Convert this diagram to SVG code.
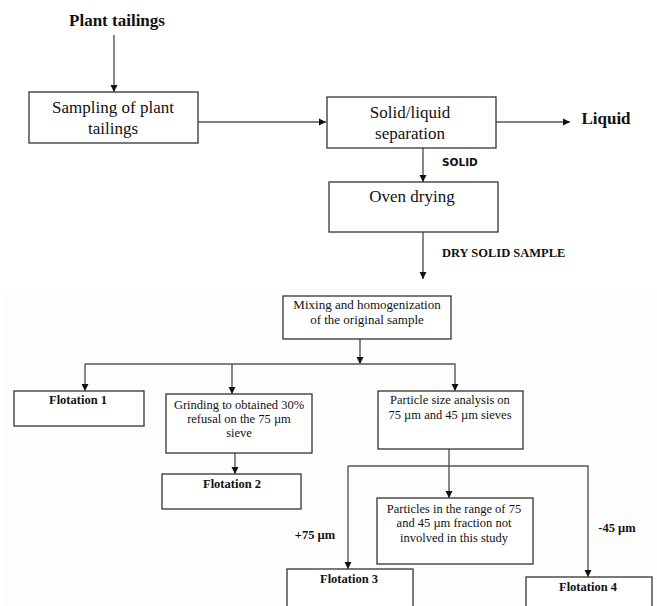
<svg xmlns="http://www.w3.org/2000/svg" width="657" height="606" viewBox="0 0 657 606">
<style>
  .box { fill: #fff; stroke: #333; stroke-width: 1.3; }
  .t { font-family: "Liberation Serif", "Times New Roman", serif; fill: #111; text-anchor: middle; }
  .big { font-size: 17px; }
  .sm { font-size: 12.5px; }
  .b { font-weight: bold; }
  .sans { font-family: "DejaVu Sans", Verdana, sans-serif; font-weight: bold; font-size: 10.5px; fill: #111; }
  .ln { fill: none; stroke: #555; stroke-width: 1.4; }
</style>
<defs>
  <marker id="ah" markerWidth="8" markerHeight="8" refX="7" refY="4" orient="auto" markerUnits="userSpaceOnUse">
    <path d="M0,0.5 L7,4 L0,7.5 Z" fill="#111"/>
  </marker>
</defs>
<rect x="0" y="0" width="657" height="606" fill="#fff"/>
<rect x="5" y="290" width="652" height="316" fill="#fdfdfd"/>

<g id="connectors">
  <line class="ln" x1="114" y1="35" x2="114" y2="92" marker-end="url(#ah)"/>
  <line class="ln" x1="198" y1="122" x2="326" y2="122" marker-end="url(#ah)"/>
  <line class="ln" x1="496" y1="122" x2="570" y2="122" marker-end="url(#ah)"/>
  <line class="ln" x1="423" y1="148" x2="423" y2="182" marker-end="url(#ah)"/>
  <line class="ln" x1="423" y1="232" x2="423" y2="279" marker-end="url(#ah)"/>
  <line class="ln" x1="360" y1="339" x2="360" y2="364" marker-end="url(#ah)"/>
  <polyline class="ln" points="85,364 455,364 455,391" marker-end="url(#ah)"/>
  <line class="ln" x1="85" y1="364" x2="85" y2="391" marker-end="url(#ah)"/>
  <line class="ln" x1="232" y1="364" x2="232" y2="394" marker-end="url(#ah)"/>
  <line class="ln" x1="235" y1="453" x2="235" y2="474" marker-end="url(#ah)"/>
  <line class="ln" x1="449" y1="449" x2="449" y2="498" marker-end="url(#ah)"/>
  <polyline class="ln" points="348,466 588,466 588,577" marker-end="url(#ah)"/>
  <line class="ln" x1="348" y1="466" x2="348" y2="569" marker-end="url(#ah)"/>
</g>

<g id="plant-tailings">
  <text class="t big b" x="117" y="26">Plant tailings</text>
</g>
<g id="sampling">
  <rect class="box" x="29" y="92" width="169" height="51"/>
  <text class="t big" x="113" y="113">Sampling of plant</text>
  <text class="t big" x="113" y="134">tailings</text>
</g>
<g id="separation">
  <rect class="box" x="327" y="97" width="169" height="51"/>
  <text class="t big" x="410" y="118">Solid/liquid</text>
  <text class="t big" x="410" y="139">separation</text>
</g>
<g id="liquid">
  <text class="t big b" x="606" y="124">Liquid</text>
</g>
<g id="solid-label">
  <text class="sans" x="442" y="166">SOLID</text>
</g>
<g id="oven">
  <rect class="box" x="329" y="182" width="169" height="50"/>
  <text class="t big" x="412" y="202">Oven drying</text>
</g>
<g id="dry-label">
  <text class="t b" x="442" y="257" style="font-size:12.5px; text-anchor:start">DRY SOLID SAMPLE</text>
</g>
<g id="mixing">
  <rect class="box" x="283" y="296" width="168" height="43"/>
  <text class="t" x="367" y="309" style="font-size:13px">Mixing and homogenization</text>
  <text class="t" x="367" y="324" style="font-size:13px">of the original sample</text>
</g>
<g id="flotation1">
  <rect class="box" x="14" y="391" width="130" height="35"/>
  <text class="t sm b" x="78" y="404">Flotation 1</text>
</g>
<g id="grinding">
  <rect class="box" x="166" y="394" width="146" height="59"/>
  <text class="t sm" x="239" y="409">Grinding to obtained 30%</text>
  <text class="t sm" x="239" y="423">refusal on the 75 µm</text>
  <text class="t sm" x="239" y="437">sieve</text>
</g>
<g id="flotation2">
  <rect class="box" x="162" y="474" width="139" height="35"/>
  <text class="t sm b" x="232" y="488">Flotation 2</text>
</g>
<g id="particle-size">
  <rect class="box" x="378" y="391" width="145" height="58"/>
  <text class="t sm" x="450" y="404">Particle size analysis on</text>
  <text class="t sm" x="450" y="419">75 µm and 45 µm sieves</text>
</g>
<g id="particles-range">
  <rect class="box" x="377" y="498" width="156" height="66"/>
  <text class="t sm" x="454" y="513">Particles in the range of 75</text>
  <text class="t sm" x="454" y="527">and 45 µm fraction not</text>
  <text class="t sm" x="454" y="542">involved in this study</text>
</g>
<g id="plus75">
  <text class="t sm b" x="315" y="539">+75 µm</text>
</g>
<g id="minus45">
  <text class="t sm b" x="617" y="532">-45 µm</text>
</g>
<g id="flotation3">
  <rect class="box" x="287" y="569" width="126" height="45"/>
  <text class="t sm b" x="349" y="583">Flotation 3</text>
</g>
<g id="flotation4">
  <rect class="box" x="526" y="577" width="126" height="45"/>
  <text class="t sm b" x="588" y="591">Flotation 4</text>
</g>
</svg>
